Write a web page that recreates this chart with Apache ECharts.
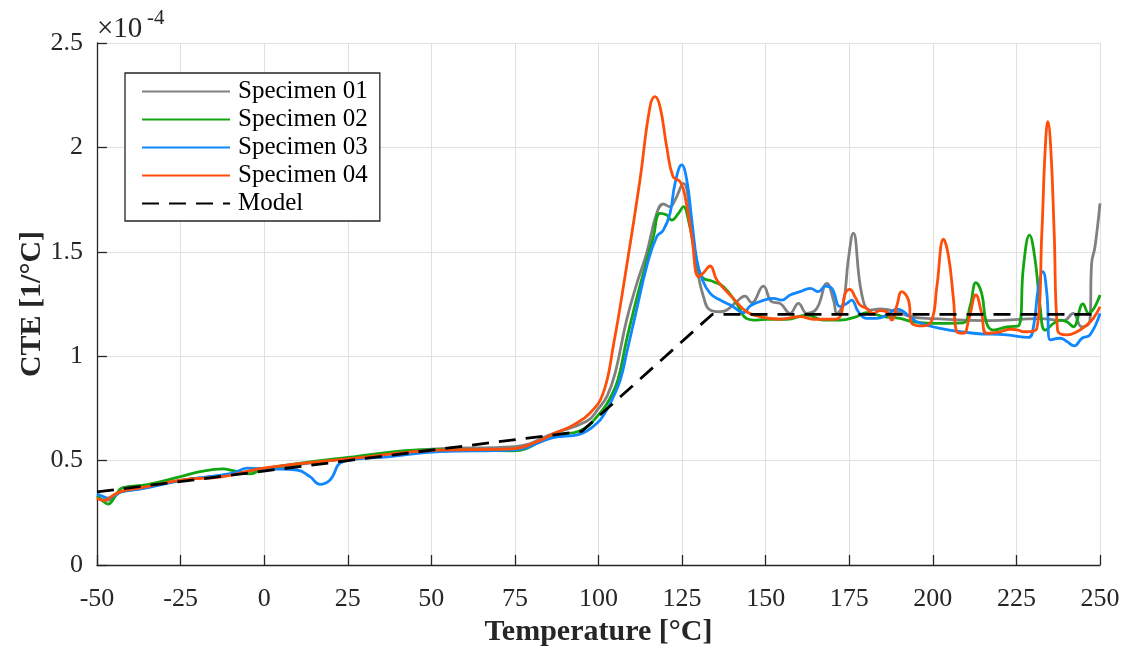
<!DOCTYPE html>
<html>
<head>
<meta charset="utf-8">
<script src="https://cdn.jsdelivr.net/npm/echarts@6/dist/echarts.min.js"></script>
<style>
html,body{margin:0;padding:0;background:#fff;}
#chart{width:1130px;height:646px;}
</style>
</head>
<body>
<div id="chart"></div>
<script>
// Values in units of 1e-4 1/°C, temperature in °C
const seriesNames = ['Specimen 01', 'Specimen 02', 'Specimen 03', 'Specimen 04', 'Model'];
const xTicks = [-50, -25, 0, 25, 50, 75, 100, 125, 150, 175, 200, 225, 250];
const yTicks = [0, 0.5, 1, 1.5, 2, 2.5];

const specimen01 = [[-50,0.32],[-47,0.31],[-43,0.35],[-37,0.365],[-25,0.405],[-12,0.43],[0,0.46],[25,0.51],[50,0.555],[75,0.567],[86.4,0.63],[96.6,0.69],[100,0.75],[102.6,0.81],[105,0.92],[108.4,1.173],[111.5,1.35],[114.4,1.494],[117.4,1.684],[119.4,1.729],[121.4,1.716],[122.9,1.748],[125.4,1.828],[127.4,1.684],[129.4,1.429],[131.4,1.285],[133.4,1.221],[136.4,1.213],[138.4,1.221],[141.3,1.261],[143.8,1.288],[145.8,1.256],[149.3,1.336],[151.8,1.261],[154.3,1.253],[157.3,1.205],[159.8,1.253],[162.3,1.205],[165.3,1.229],[168.3,1.349],[170.3,1.269],[171.3,1.205],[173.2,1.253],[174.7,1.46],[176.2,1.589],[178.7,1.3],[181.2,1.221],[184.2,1.226],[189.2,1.213],[193.2,1.19],[200,1.18],[217,1.17],[232,1.18],[239,1.17],[242,1.205],[244.5,1.14],[247,1.17],[247.5,1.445],[248.5,1.524],[250,1.732]];

const specimen02 = [[-50,0.33],[-48.5,0.31],[-46.7,0.292],[-44.5,0.33],[-42.5,0.369],[-35,0.385],[-25,0.423],[-19.2,0.447],[-12.3,0.46],[-9.3,0.452],[-4.2,0.436],[-0.3,0.46],[25,0.515],[50,0.553],[74.4,0.547],[86.4,0.62],[94.5,0.643],[100.5,0.728],[103.5,0.8],[105.8,0.886],[108.4,1.078],[111,1.25],[113.4,1.397],[116.4,1.572],[118.4,1.684],[120.4,1.676],[121.9,1.652],[123.9,1.684],[125.4,1.716],[126.9,1.652],[128.9,1.493],[130.9,1.381],[134.4,1.357],[137.4,1.333],[141.3,1.253],[144.3,1.181],[147.3,1.173],[150.3,1.177],[156.3,1.177],[162.3,1.197],[167.3,1.173],[172.3,1.173],[177.2,1.19],[180.2,1.208],[185.2,1.19],[190.2,1.181],[194,1.165],[200,1.157],[209,1.16],[211.1,1.237],[212.9,1.352],[214.6,1.301],[216.1,1.157],[218.1,1.125],[222.1,1.141],[225.6,1.145],[227.1,1.429],[228.9,1.58],[230.6,1.461],[232.1,1.237],[233.6,1.125],[236.1,1.157],[238.1,1.173],[240.1,1.165],[242,1.141],[244.9,1.25],[246.6,1.205],[250,1.293]];

const specimen03 = [[-50,0.34],[-48.5,0.33],[-46.7,0.32],[-44.5,0.335],[-42.5,0.351],[-37,0.364],[-25,0.404],[-9.3,0.44],[-5.1,0.464],[1.8,0.46],[9.8,0.455],[13.7,0.423],[16.7,0.386],[19.7,0.407],[23.6,0.495],[37.6,0.519],[52.6,0.543],[74.4,0.55],[86.4,0.61],[94.5,0.627],[99.6,0.68],[102,0.73],[104,0.79],[106.5,0.886],[108.4,1.014],[111.5,1.23],[114.4,1.429],[117.4,1.572],[119.4,1.604],[121.4,1.684],[122.9,1.828],[124.9,1.916],[126.4,1.844],[127.9,1.652],[129.4,1.461],[130.9,1.373],[133.4,1.301],[136.4,1.269],[140.3,1.237],[143.3,1.208],[145.3,1.24],[147.3,1.256],[150.3,1.272],[152.3,1.277],[154.8,1.269],[157.3,1.293],[160.3,1.309],[163.3,1.325],[165.8,1.309],[167.8,1.336],[169.8,1.325],[172.3,1.237],[174.3,1.253],[175.7,1.269],[177.7,1.213],[180.2,1.181],[183.2,1.181],[186.2,1.197],[189.2,1.225],[193.2,1.19],[195.2,1.165],[202.2,1.133],[212.1,1.11],[222.1,1.102],[228.6,1.09],[230.1,1.141],[231.6,1.333],[232.9,1.405],[234.1,1.301],[235.1,1.078],[238.1,1.086],[240.1,1.07],[242.3,1.049],[244.6,1.086],[247,1.102],[250,1.205]];

const specimen04 = [[-50,0.32],[-48,0.308],[-46,0.325],[-43,0.351],[-37,0.369],[-25,0.407],[-12.3,0.423],[-0.3,0.464],[24.8,0.508],[52.6,0.55],[74.4,0.556],[81.6,0.59],[86.4,0.627],[92.4,0.67],[97.5,0.728],[101.4,0.823],[104.4,1.046],[108.4,1.43],[112.4,1.844],[115.4,2.195],[116.9,2.243],[118.4,2.195],[120.4,2.003],[122.3,1.86],[124.4,1.836],[125.9,1.764],[127.9,1.572],[129.9,1.381],[131.3,1.398],[133.4,1.432],[135.4,1.365],[140.3,1.277],[144.3,1.213],[148.3,1.19],[154.3,1.177],[160.3,1.19],[164.3,1.177],[170.3,1.177],[172.3,1.19],[173.8,1.301],[175.2,1.32],[176.7,1.285],[178.2,1.245],[180.2,1.229],[182.2,1.205],[184.2,1.218],[186.2,1.213],[187.7,1.173],[189.2,1.24],[190.7,1.309],[192.7,1.269],[193.7,1.157],[197.2,1.145],[199.7,1.173],[201.2,1.333],[203.2,1.56],[204.7,1.477],[206.2,1.269],[207.2,1.117],[209.2,1.11],[210.7,1.173],[212.9,1.293],[214.6,1.205],[216.1,1.11],[220.1,1.117],[223.1,1.129],[225.6,1.125],[227.1,1.117],[231.1,1.133],[232.6,1.589],[233.6,1.988],[234.4,2.123],[235.3,1.988],[236.3,1.589],[237.3,1.125],[240.1,1.102],[243.1,1.117],[246,1.149],[248,1.181],[250,1.237]];

const model = [[-50,0.35],[95,0.64],[134,1.2],[250,1.2]];

const colors = ['#808080', '#12a612', '#0f87ff', '#ff4d0a', '#000000'];
const serif = '"Liberation Serif", "Times New Roman", serif';

const chart = echarts.init(document.getElementById('chart'), null, {renderer: 'canvas'});

function lineSeries(name, data, color, dashed) {
  return {
    name: name,
    type: 'line',
    data: data,
    symbol: 'none',
    showSymbol: false,
    smooth: dashed ? false : 0.45,
    animation: false,
    lineStyle: {color: color, width: 2.8, type: dashed ? [17, 10] : 'solid'},
    itemStyle: {color: color},
    z: dashed ? 5 : 2
  };
}

const option = {
  animation: false,
  backgroundColor: '#ffffff',
  grid: {left: 97, right: 30, top: 43, bottom: 81, containLabel: false, outerBoundsMode: 'none'},
  legend: {
    orient: 'vertical',
    left: 125,
    top: 73,
    padding: [6, 12, 5, 16],
    itemWidth: 88,
    itemHeight: 20,
    itemGap: 3,
    borderColor: '#262626',
    borderWidth: 1.3,
    borderRadius: 0,
    backgroundColor: '#ffffff',
    itemStyle: {opacity: 0},
    data: seriesNames,
    textStyle: {fontFamily: serif, fontSize: 25, color: '#000', lineHeight: 20, padding: [0, 0, 0, 3]}
  },
  xAxis: {
    type: 'value',
    min: -50, max: 250, interval: 25,
    name: 'Temperature [°C]',
    nameLocation: 'middle',
    nameGap: 52,
    nameMoveOverlap: false,
    nameTextStyle: {fontFamily: serif, fontSize: 30, fontWeight: 'bold', color: '#262626'},
    axisLine: {show: true, onZero: false, lineStyle: {color: '#262626', width: 1.3}},
    axisTick: {show: true, inside: true, length: 10, lineStyle: {color: '#262626', width: 1.3}},
    axisLabel: {fontFamily: serif, fontSize: 26, color: '#262626', margin: 21,
      formatter: function (v) { return xTicks.indexOf(v) >= 0 ? String(v) : ''; }},
    splitLine: {show: true, lineStyle: {color: '#e0e0e0', width: 1}}
  },
  yAxis: {
    type: 'value',
    min: 0, max: 2.5, interval: 0.5,
    name: 'CTE [1/°C]',
    nameLocation: 'middle',
    nameGap: 50,
    nameMoveOverlap: false,
    nameRotate: 90,
    nameTextStyle: {fontFamily: serif, fontSize: 30, fontWeight: 'bold', color: '#262626'},
    axisLine: {show: true, onZero: false, lineStyle: {color: '#262626', width: 1.3}},
    axisTick: {show: true, inside: true, length: 10, lineStyle: {color: '#262626', width: 1.3}},
    axisLabel: {fontFamily: serif, fontSize: 26, color: '#262626', margin: 14,
      formatter: function (v) { return yTicks.indexOf(v) >= 0 ? String(v) : ''; }},
    splitLine: {show: true, lineStyle: {color: '#e0e0e0', width: 1}}
  },
  graphic: [
    {type: 'text', left: 97, top: 15, style: {text: '×10', font: '29px ' + serif, fill: '#262626'}},
    {type: 'text', left: 147, top: 8, style: {text: '-4', font: '21px ' + serif, fill: '#262626'}}
  ],
  series: [
    lineSeries(seriesNames[0], specimen01, colors[0], false),
    lineSeries(seriesNames[1], specimen02, colors[1], false),
    lineSeries(seriesNames[2], specimen03, colors[2], false),
    lineSeries(seriesNames[3], specimen04, colors[3], false),
    lineSeries(seriesNames[4], model, colors[4], true)
  ]
};
chart.setOption(option);
</script>
</body>
</html>
